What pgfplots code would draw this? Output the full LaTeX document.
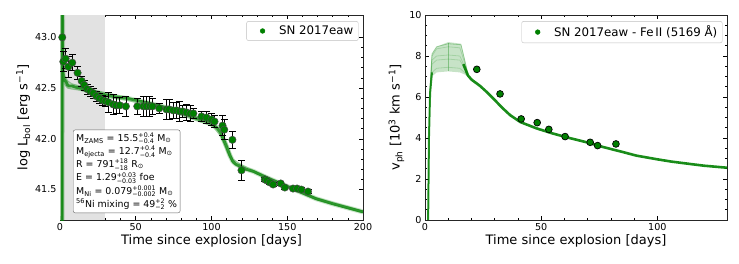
\documentclass[border=0pt]{standalone}
\usepackage{fontspec}
\setmainfont{DejaVu Sans}
\usepackage{pgfplots}
\pgfplotsset{compat=1.18}
\definecolor{mgreen}{RGB}{0,128,0}
\definecolor{shade}{RGB}{226,226,226}
\newcommand{\ud}[2]{\ensuremath{^{\hbox{\fontsize{6.3}{7}\selectfont #1}}_{\hbox{\fontsize{6.3}{7}\selectfont #2}}}}
\pgfplotsset{
  myax/.style={
    scale only axis,
    tick align=inside,
    xtick pos=both, ytick pos=both,
    major tick length=4pt, minor tick length=2.2pt,
    every tick/.style={black, line width=0.6pt},
    axis line style={line width=0.8pt, black!85},
    tick label style={font=\fontsize{9.6}{11}\selectfont},
    label style={font=\fontsize{13}{15}\selectfont},
    /pgf/number format/assume math mode=true,
    xlabel={Time since explosion [days]},
    xlabel style={yshift=3pt},
    legend cell align=left,
    legend style={draw=black!25, rounded corners=2pt, font=\fontsize{11.8}{13}\selectfont, inner xsep=3pt, inner ysep=2.5pt},
  },
  legimg/.style={only marks, mark=*, mark size=2.4pt, mark options={fill=mgreen, draw=mgreen},
    legend image code/.code={\path (0cm,0cm) (0.95cm,0cm); \draw[mark repeat=2, mark phase=2, ##1] plot coordinates {(0.1cm,0cm) (0.45cm,0cm) (0.8cm,0cm)};}},
  errstyle/.style={
    error bars/.cd, y dir=both, y explicit,
    error bar style={black, line width=0.7pt},
    error mark options={black, line width=0.7pt, mark size=3.5pt, rotate=90},
    /pgfplots/.cd,
  }
}
\begin{document}
\begin{tikzpicture}
\path[use as bounding box] (0,0) rectangle (739pt,263pt);
\begin{axis}[myax,
  at={(60pt,43pt)}, anchor=south west,
  width=303pt, height=205pt,
  xmin=0, xmax=200, ymin=41.2, ymax=43.22,
  xtick={0,50,100,150,200}, minor x tick num=4,
  ytick={41.5,42.0,42.5,43.0}, minor y tick num=4,
  yticklabel style={/pgf/number format/.cd, fixed, fixed zerofill, precision=1},
  ylabel={log L\textsubscript{bol} [erg s\textsuperscript{−1}]},
  ylabel style={yshift=-2pt},
  legend style={at={(0.985,0.97)}, anchor=north east},
]
\addplot[fill=shade, draw=none, forget plot] coordinates {(0,41.2) (30,41.2) (30,43.22) (0,43.22)} -- cycle;
% model band
\addplot[mgreen, line width=5pt, opacity=0.2, forget plot] coordinates {
(1.4,41.0) (1.6,43.5) (1.9,42.66) (2.2,42.61) (3,42.58) (4,42.56) (5,42.53) (6,42.52) (8,42.52) (10,42.51) (13,42.50) (16,42.49) (20,42.47) (25,42.45) (31,42.43) (38,42.41) (44,42.40) (50,42.38) (59,42.35) (67,42.32) (75,42.28) (83,42.24) (92,42.19) (97,42.17) (101,42.14) (104,42.10) (106,42.06) (108,41.99) (110,41.92) (112,41.84) (114,41.78) (116,41.75) (119,41.73) (123,41.70) (127.5,41.68) (136,41.62) (147,41.55) (158,41.48) (169,41.41) (180,41.36) (190,41.32) (200,41.28)};
\addplot[mgreen, line width=2.8pt, opacity=0.75, forget plot] coordinates {
(1.4,41.0) (1.6,43.5) (1.9,42.66) (2.2,42.61) (3,42.58) (4,42.56) (5,42.53) (6,42.52) (8,42.52) (10,42.51) (13,42.50) (16,42.49) (20,42.47) (25,42.45) (31,42.43) (38,42.41) (44,42.40) (50,42.38) (59,42.35) (67,42.32) (75,42.28) (83,42.24) (92,42.19) (97,42.17) (101,42.14) (104,42.10) (106,42.06) (108,41.99) (110,41.92) (112,41.84) (114,41.78) (116,41.75) (119,41.73) (123,41.70) (127.5,41.68) (136,41.62) (147,41.55) (158,41.48) (169,41.41) (180,41.36) (190,41.32) (200,41.28)};
\addplot[mgreen, line width=1.2pt, opacity=0.3, forget plot] coordinates {
(1.5,41.0) (1.7,43.5) (2.0,42.70) (3,42.62) (5,42.57) (8,42.54) (13,42.52) (20,42.49) (31,42.45) (44,42.41) (59,42.36) (75,42.30) (92,42.21) (101,42.16) (106,42.09) (110,41.96) (114,41.80) (119,41.75) (127.5,41.69) (147,41.56) (169,41.42) (200,41.29)};
\addplot[mgreen, line width=1.2pt, opacity=0.3, forget plot] coordinates {
(1.3,41.0) (1.5,43.5) (1.8,42.60) (3,42.54) (5,42.50) (8,42.49) (13,42.48) (20,42.45) (31,42.41) (44,42.38) (59,42.33) (75,42.26) (92,42.17) (101,42.12) (106,42.03) (110,41.88) (114,41.76) (119,41.71) (127.5,41.67) (147,41.54) (169,41.40) (200,41.27)};
% data
\addplot[forget plot, only marks, mark=*, mark size=3.7pt, mark options={fill=mgreen, draw=black!70, line width=0.5pt}, errstyle]
  table[x=x, y=y, y error=e] {
x y e
1.5 43.00 0.00
2.2 42.76 0.10
3.7 42.79 0.10
5.5 42.71 0.10
8.1 42.75 0.08
11.6 42.65 0.06
14.3 42.57 0.05
16 42.53 0.05
18 42.49 0.05
20 42.47 0.05
22 42.45 0.05
24 42.42 0.05
26 42.40 0.05
28 42.38 0.05
30 42.37 0.05
32 42.36 0.10
35 42.34 0.10
37 42.33 0.08
39.5 42.33 0.08
43.5 42.32 0.10
51 42.32 0.08
55 42.32 0.10
57 42.32 0.10
59.3 42.32 0.10
61 42.32 0.08
65.5 42.30 0.05
70.3 42.29 0.10
72 42.29 0.10
74.7 42.28 0.08
77 42.28 0.08
79 42.27 0.10
81 42.27 0.06
83.5 42.26 0.08
86 42.25 0.08
88 42.25 0.05
93.4 42.22 0.05
96.7 42.21 0.06
100 42.19 0.06
102 42.17 0.06
107.3 42.13 0.10
108.4 42.09 0.10
113.8 41.99 0.08
119.8 41.69 0.10
135.2 41.60 0.02
136.5 41.59 0.02
138.5 41.57 0.02
140.7 41.55 0.02
145.7 41.56 0.02
148.4 41.52 0.02
153.8 41.51 0.02
156.5 41.51 0.02
159.3 41.50 0.02
163.7 41.48 0.02
};
\addlegendimage{legimg}
\addlegendentry{SN 2017eaw}
\node[anchor=south west, draw=black!60, rounded corners=2pt, fill=white, align=left, inner sep=3pt,
  font=\fontsize{9.4}{13.2}\selectfont] at (rel axis cs:0.043,0.034) {%
M\textsubscript{ZAMS} = 15.5\ud{+0.4}{−0.4} M\textsubscript{⊙}\\
M\textsubscript{ejecta} = 12.7\ud{+0.4}{−0.4} M\textsubscript{⊙}\\
R = 791\ud{+18}{−18} R\textsubscript{⊙}\\
E = 1.29\ud{+0.03}{−0.03} foe\\
M\textsubscript{Ni} = 0.079\ud{+0.001}{−0.002} M\textsubscript{⊙}\\
\textsuperscript{56}Ni mixing = 49\ud{+2}{−2} \%};
\end{axis}
\begin{axis}[myax,
  at={(425pt,43pt)}, anchor=south west,
  width=302pt, height=205pt,
  xmin=0, xmax=130, ymin=0, ymax=10,
  xtick={0,50,100}, minor x tick num=4,
  ytick={0,2,4,6,8,10}, minor y tick num=3,
  ylabel={v\textsubscript{ph} [10\textsuperscript{3} km s\textsuperscript{−1}]},
  ylabel style={yshift=-2pt},
  legend style={at={(0.985,0.97)}, anchor=north east},
]
% model band (plateau spread)
\addplot[fill=mgreen, fill opacity=0.22, draw=none, forget plot] coordinates {
(1.3,0) (2,6.2) (3,8.1) (5,8.45) (10,8.68) (15.5,8.6) (17,7.9) (18.5,7.15)
(18.5,7.0) (17,7.1) (15,7.2) (10,7.25) (5,7.2) (3,7.0) (2,5.5) (1.5,0)} -- cycle;
\addplot[mgreen, line width=0.8pt, opacity=0.18, forget plot] coordinates {(1.3,0) (2,5.6) (3,7.2) (5,7.4) (10,7.45) (15,7.4) (17,7.2) (18.5,7.0)};
\addplot[mgreen, line width=0.8pt, opacity=0.18, forget plot] coordinates {(1.3,0) (2,5.8) (3,7.6) (5,7.8) (10,7.85) (15,7.8) (17,7.4) (18.5,7.0)};
\addplot[mgreen, line width=0.8pt, opacity=0.18, forget plot] coordinates {(1.3,0) (2,5.9) (3,7.8) (5,8.0) (10,8.05) (15,8.0) (17,7.5) (18.5,7.05)};
\addplot[mgreen, line width=0.8pt, opacity=0.18, forget plot] coordinates {(1.3,0) (2,6.1) (3,8.0) (5,8.35) (10,8.45) (15,8.4) (17,7.7) (18.5,7.1)};
\addplot[mgreen, line width=0.8pt, opacity=0.3, forget plot] coordinates {(1.3,0) (2,6.2) (3,8.1) (5,8.45) (10,8.6) (15.5,8.55) (17,7.85) (18.5,7.12)};
\addplot[mgreen, line width=0.4pt, opacity=0.35, forget plot] coordinates {(10,7.25) (10,8.65)};
% rising edge
\addplot[mgreen, line width=2pt, opacity=0.8, forget plot] coordinates {(1.35,0) (1.7,4) (2.2,6.2) (3,7.2)};
% common tail
\addplot[mgreen, line width=2.6pt, opacity=0.9, forget plot] coordinates {
(16.5,7.6) (18.5,7.05) (20,6.85) (23.7,6.54) (27,6.2) (30.9,5.75) (33,5.5) (36.6,5.12) (41,4.78) (48,4.47) (55,4.22) (62.5,3.99) (70,3.78) (77,3.55) (85,3.32) (91,3.14) (100,2.96) (106,2.85) (115,2.72) (120,2.65) (130,2.55)};
\addplot[forget plot, only marks, mark=*, mark size=3.4pt, mark options={fill=mgreen, draw=black, line width=0.7pt}]
  coordinates {(22.3,7.35) (32.3,6.15) (41.4,4.93) (48.3,4.75) (53.3,4.42) (60.3,4.07) (71.1,3.79) (74.3,3.63) (82.2,3.71)};
\addlegendimage{legimg}
\addlegendentry{SN 2017eaw - Fe\,II (5169 Å)}
\end{axis}
\end{tikzpicture}
\end{document}
